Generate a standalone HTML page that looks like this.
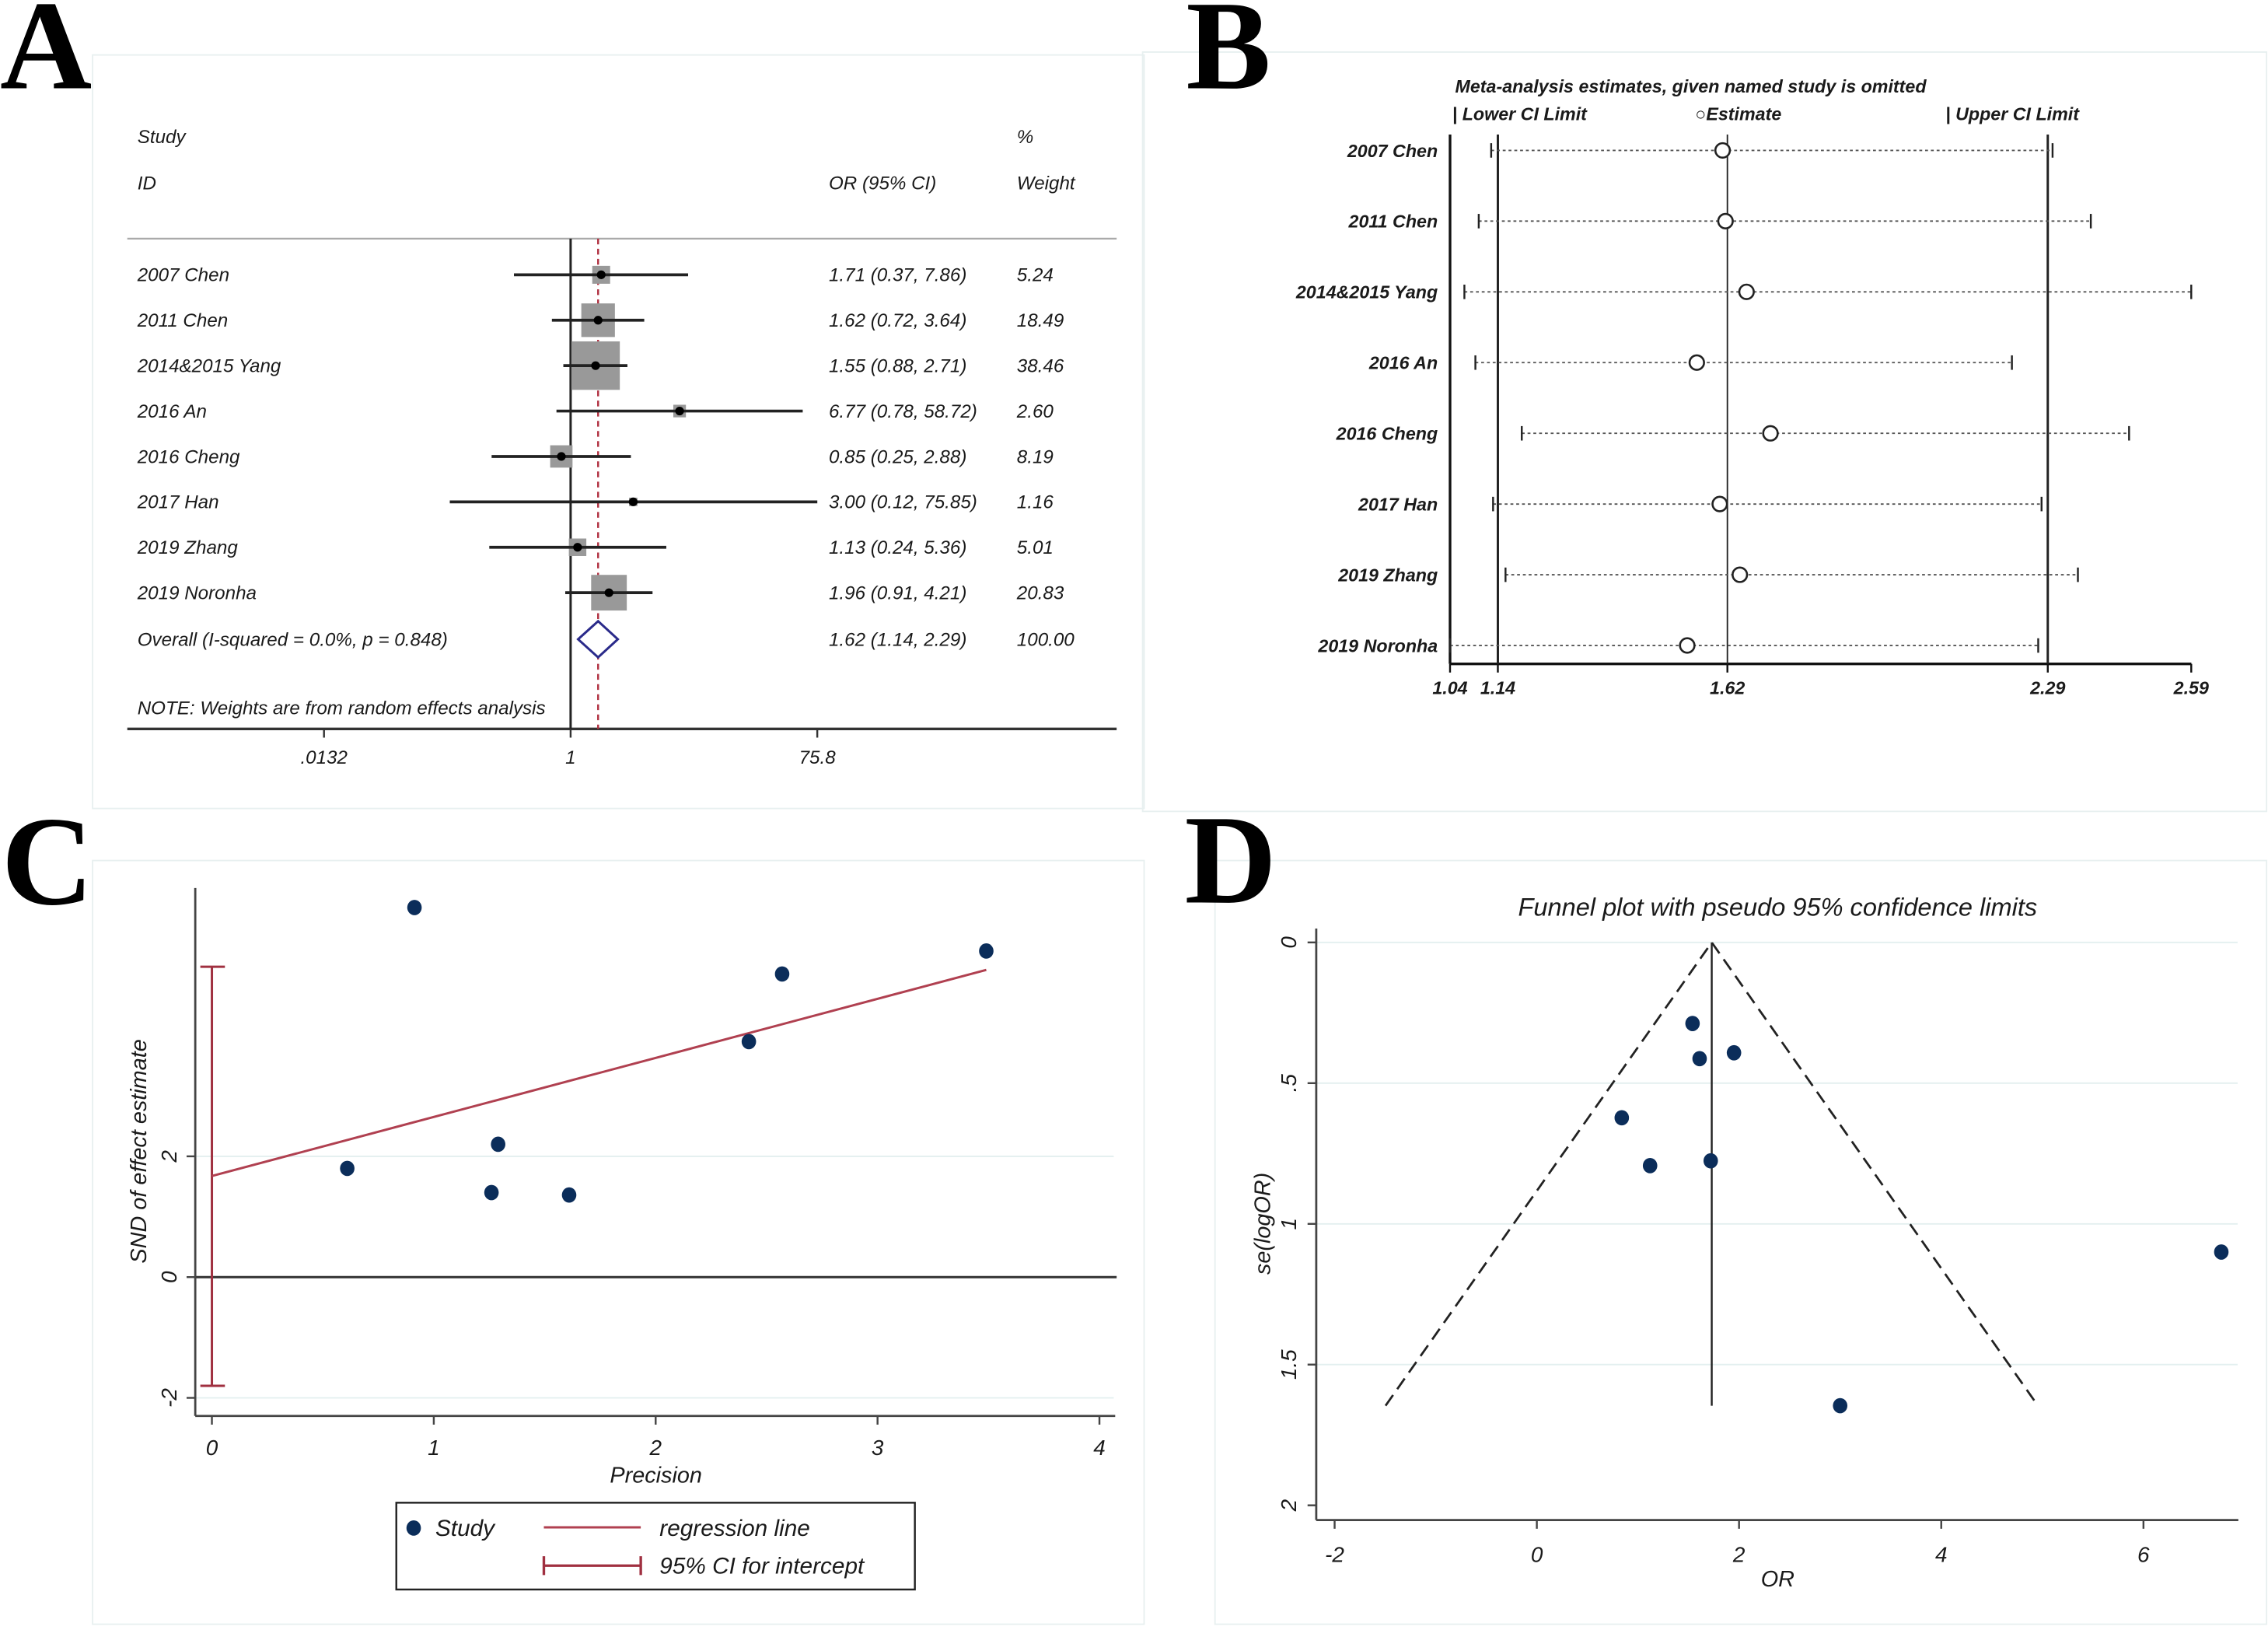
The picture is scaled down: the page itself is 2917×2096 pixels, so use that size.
<!DOCTYPE html>
<html><head><meta charset="utf-8"><style>
html,body{margin:0;padding:0;background:#fff;}
svg{display:block;}
text{font-family:"Liberation Sans",sans-serif;}
.lt{font-family:"Liberation Serif",serif;font-weight:bold;font-size:88px;fill:#000;}
.it{font-style:italic;fill:#1a1a1a;}
</style></head><body>
<svg id="fig" width="2917" height="2096" viewBox="0 0 1568 1127" preserveAspectRatio="none" xmlns="http://www.w3.org/2000/svg">
<rect x="0" y="0" width="1568" height="1127" fill="#fff"/>
<rect x="64" y="38" width="727" height="521" fill="none" stroke="#e8f0f0" stroke-width="1"/>
<rect x="790" y="36" width="777" height="525" fill="none" stroke="#e8f0f0" stroke-width="1"/>
<rect x="64" y="595" width="727" height="528" fill="none" stroke="#e8f0f0" stroke-width="1"/>
<rect x="840" y="595" width="727" height="528" fill="none" stroke="#e8f0f0" stroke-width="1"/>
<text class="lt" x="0" y="61">A</text>
<text class="lt" x="820" y="61">B</text>
<text class="lt" x="1" y="625">C</text>
<text class="lt" x="819" y="624">D</text>

<g id="pa" font-size="13">
<text class="it" x="95" y="99">Study</text>
<text class="it" x="95" y="131">ID</text>
<text class="it" x="573" y="131">OR (95% CI)</text>
<text class="it" x="703" y="99">%</text>
<text class="it" x="703" y="131">Weight</text>
<line x1="88" y1="165" x2="772" y2="165" stroke="#aaa" stroke-width="1.2"/>
<line x1="88" y1="504" x2="772" y2="504" stroke="#333" stroke-width="1.8"/>
<text class="it" x="95" y="494">NOTE: Weights are from random effects analysis</text>
</g>
<g id="pb" font-size="12.5" font-weight="bold">
<text class="it" x="1006" y="64">Meta-analysis estimates, given named study is omitted</text>
<text class="it" x="1004" y="83">| Lower CI Limit</text>
<text class="it" x="1172" y="83">○Estimate</text>
<text class="it" x="1345" y="83">| Upper CI Limit</text>
</g>
<g id="pc"></g>
<g id="pd"></g>
</svg>
<script>
// ---------- Panel A data ----------
const studies = ["2007 Chen","2011 Chen","2014&2015 Yang","2016 An","2016 Cheng","2017 Han","2019 Zhang","2019 Noronha"];
const orVals = [1.71,1.62,1.55,6.77,0.85,3.00,1.13,1.96];
const loVals = [0.37,0.72,0.88,0.78,0.25,0.12,0.24,0.91];
const hiVals = [7.86,3.64,2.71,58.72,2.88,75.85,5.36,4.21];
const weights = [5.24,18.49,38.46,2.60,8.19,1.16,5.01,20.83];
const overall = [1.62,1.14,2.29];
const forestTicks = [0.0132,1,75.8];
const forestTickLabels = [".0132","1","75.8"];
// ---------- Panel B data ----------
const omitLower = [1.126,1.10,1.07,1.093,1.19,1.13,1.156,1.04];
const omitEst = [1.61,1.616,1.66,1.556,1.71,1.604,1.646,1.536];
const omitUpper = [2.30,2.38,2.59,2.215,2.46,2.277,2.353,2.27];
const bTicks = [1.04,1.14,1.62,2.29,2.59];
const bRefLines = [1.14,1.62,2.29];
// ---------- Panel C data ----------
const precision = [0.913,0.61,1.29,1.26,1.61,2.42,2.57,3.49];
const snd = [6.12,1.80,2.20,1.40,1.36,3.90,5.02,5.40];
const regIntercept = 1.674;
const regSlope = 0.978;
const interceptCI = [-1.80,5.14];
const cXTicks = [0,1,2,3,4];
const cYTicks = [-2,0,2];
// ---------- Panel D data ----------
const funnelOR = [1.54,1.61,1.95,0.84,1.12,1.72,3.00,6.77];
const funnelSE = [0.288,0.413,0.392,0.623,0.793,0.776,1.646,1.10];
const pooledOR = 1.73;
const maxSE = 1.646;
const dXTicks = [-2,0,2,4,6];
const dYTicks = [0,0.5,1,1.5,2];
const dYTickLabels = ["0",".5","1","1.5","2"];

const NS="http://www.w3.org/2000/svg";
function mk(parent,tag,attrs,txt){const e=document.createElementNS(NS,tag);for(const k in attrs)e.setAttribute(k,attrs[k]);if(txt!==undefined)e.textContent=txt;parent.appendChild(e);return e;}
const pa=document.getElementById('pa'), pb=document.getElementById('pb'), pc=document.getElementById('pc'), pd=document.getElementById('pd');

// ===== Panel A =====
const ax=v=>394.5+Math.log(v)*39.4;
const rowY=i=>190+i*31.4;
let el;
el=mk(pa,'line',{x1:ax(1),y1:165,x2:ax(1),y2:504,stroke:'#222','stroke-width':1.6});


el=mk(pa,'line',{x1:ax(overall[0]),y1:165,x2:ax(overall[0]),y2:504,stroke:'#b03040','stroke-width':1.3,'stroke-dasharray':'4 3'});


studies.forEach((s,i)=>{
  const y=rowY(i);
  const side=5.4*Math.sqrt(weights[i]);
  el=mk(pa,'rect',{x:ax(orVals[i])-side/2,y:y-side/2,width:side,height:side,fill:'#999'});
  
  
  el=mk(pa,'line',{x1:ax(loVals[i]),y1:y,x2:ax(hiVals[i]),y2:y,stroke:'#222','stroke-width':2});
  
  
  el=mk(pa,'circle',{cx:ax(orVals[i]),cy:y,r:3,fill:'#000'});
  
  
  el=mk(pa,'text',{class:'it',x:95,y:y+4.5},s);
  
  
  el=mk(pa,'text',{class:'it',x:573,y:y+4.5},orVals[i].toFixed(2)+' ('+loVals[i].toFixed(2)+', '+hiVals[i].toFixed(2)+')');
  
  
  el=mk(pa,'text',{class:'it',x:703,y:y+4.5},weights[i].toFixed(2));
  
  
});
{
  const y=442;
  const pts=[[ax(overall[1]),y],[ax(overall[0]),y-12.5],[ax(overall[2]),y],[ax(overall[0]),y+12.5]].map(p=>p.join(',')).join(' ');
  el=mk(pa,'polygon',{points:pts,fill:'#fff',stroke:'#2a2a8a','stroke-width':1.6});
  
  
  el=mk(pa,'text',{class:'it',x:95,y:y+4.5},'Overall  (I-squared = 0.0%, p = 0.848)');
  
  
  el=mk(pa,'text',{class:'it',x:573,y:y+4.5},overall[0].toFixed(2)+' ('+overall[1].toFixed(2)+', '+overall[2].toFixed(2)+')');
  
  
  el=mk(pa,'text',{class:'it',x:703,y:y+4.5},'100.00');
  
  
}
forestTicks.forEach((t,i)=>{
  el=mk(pa,'line',{x1:ax(t),y1:504,x2:ax(t),y2:510,stroke:'#333','stroke-width':1.3});
  
  
  el=mk(pa,'text',{class:'it',x:ax(t),y:528,'text-anchor':'middle'},forestTickLabels[i]);
  
  
});

// ===== Panel B =====
const bx=v=>1002.5+(v-1.04)*330.6;
const bRowY=i=>104+i*48.9;
el=mk(pb,'line',{x1:1002.5,y1:93,x2:1002.5,y2:459,stroke:'#111','stroke-width':1.8});


el=mk(pb,'line',{x1:1002.5,y1:459,x2:1515,y2:459,stroke:'#111','stroke-width':1.8});


bRefLines.forEach((v,i)=>{
  el=mk(pb,'line',{x1:bx(v),y1:93,x2:bx(v),y2:459,stroke:'#222','stroke-width':i===1?1:1.6});
  
  
});
bTicks.forEach(t=>{
  el=mk(pb,'line',{x1:bx(t),y1:459,x2:bx(t),y2:465,stroke:'#111','stroke-width':1.3});
  
  
  el=mk(pb,'text',{class:'it',x:bx(t),y:480,'text-anchor':'middle'},t.toFixed(2));
  
  
});
studies.forEach((s,i)=>{
  const y=bRowY(i);
  el=mk(pb,'line',{x1:bx(omitLower[i]),y1:y,x2:bx(omitUpper[i]),y2:y,stroke:'#555','stroke-width':1,'stroke-dasharray':'2 2'});
  
  
  [omitLower[i],omitUpper[i]].forEach(v=>{
    el=mk(pb,'line',{x1:bx(v),y1:y-5,x2:bx(v),y2:y+5,stroke:'#222','stroke-width':1.3});
    
    
  });
  el=mk(pb,'circle',{cx:bx(omitEst[i]),cy:y,r:5,fill:'#fff',stroke:'#222','stroke-width':1.4});
  
  
  el=mk(pb,'text',{class:'it',x:994,y:y+4.5,'text-anchor':'end'},s);
  
  
});

// ===== Panel C =====
const cx=v=>146.5+v*153.4;
const cy=v=>883-v*41.75;
[2,-2].forEach(v=>{
  el=mk(pc,'line',{x1:135,y1:cy(v),x2:770,y2:cy(v),stroke:'#e3efef','stroke-width':1});
  
  
});
el=mk(pc,'line',{x1:135,y1:cy(0),x2:772,y2:cy(0),stroke:'#333','stroke-width':1.6});


el=mk(pc,'line',{x1:135,y1:614,x2:135,y2:979,stroke:'#444','stroke-width':1.5});


el=mk(pc,'line',{x1:135,y1:979,x2:771,y2:979,stroke:'#444','stroke-width':1.5});


cXTicks.forEach(t=>{
  el=mk(pc,'line',{x1:cx(t),y1:979,x2:cx(t),y2:985,stroke:'#444','stroke-width':1.3});
  
  
  el=mk(pc,'text',{class:'it',x:cx(t),y:1006,'text-anchor':'middle','font-size':15},String(t));
  
  
});
cYTicks.forEach(t=>{
  el=mk(pc,'line',{x1:129,y1:cy(t),x2:135,y2:cy(t),stroke:'#444','stroke-width':1.3});
  
  
  el=mk(pc,'text',{class:'it','font-size':15,'text-anchor':'middle',transform:'translate(122,'+cy(t)+') rotate(-90)'},String(t));
  
  
});
el=mk(pc,'text',{class:'it','font-size':15.5,'text-anchor':'middle',transform:'translate(101,796) rotate(-90)'},'SND of effect estimate');


el=mk(pc,'text',{class:'it','font-size':15.5,'text-anchor':'middle',x:453.5,y:1025},'Precision');


el=mk(pc,'line',{x1:cx(0),y1:cy(interceptCI[0]),x2:cx(0),y2:cy(interceptCI[1]),stroke:'#a03040','stroke-width':1.6});


interceptCI.forEach(v=>{
  el=mk(pc,'line',{x1:cx(0)-8,y1:cy(v),x2:cx(0)+9,y2:cy(v),stroke:'#a03040','stroke-width':1.6});
  
  
});
{
  const xmax=Math.max(...precision);
  el=mk(pc,'line',{x1:cx(0),y1:cy(regIntercept),x2:cx(xmax),y2:cy(regIntercept+regSlope*xmax),stroke:'#b04050','stroke-width':1.6});
  
  
}
precision.forEach((p,i)=>{
  el=mk(pc,'ellipse',{cx:cx(p),cy:cy(snd[i]),rx:5,ry:5.3,fill:'#0b2d5a'});
  
  
});
el=mk(pc,'rect',{x:274,y:1039,width:358.5,height:60,fill:'#fff',stroke:'#222','stroke-width':1.3});


el=mk(pc,'ellipse',{cx:286,cy:1056.5,rx:5,ry:5.3,fill:'#0b2d5a'});


el=mk(pc,'text',{class:'it','font-size':16,x:301,y:1062},'Study');


el=mk(pc,'line',{x1:376,y1:1056,x2:443,y2:1056,stroke:'#b04050','stroke-width':1.6});


el=mk(pc,'text',{class:'it','font-size':16,x:456,y:1062},'regression line');


el=mk(pc,'path',{d:'M376 1076 V1089 M376 1082.5 H443 M443 1076 V1089',fill:'none',stroke:'#a03040','stroke-width':1.8});


el=mk(pc,'text',{class:'it','font-size':16,x:456,y:1088},'95% CI for intercept');



// ===== Panel D =====
const dx=v=>1062.5+v*69.9;
const dy=v=>651.6+v*194.6;
el=mk(pd,'text',{class:'it','font-size':17.5,'text-anchor':'middle',x:1229,y:633},'Funnel plot with pseudo 95% confidence limits');


dYTicks.forEach((t,i)=>{
  if(t<2){
    el=mk(pd,'line',{x1:910,y1:dy(t),x2:1547,y2:dy(t),stroke:'#e3efef','stroke-width':1});
    
    
  }
  el=mk(pd,'line',{x1:904,y1:dy(t),x2:910,y2:dy(t),stroke:'#444','stroke-width':1.3});
  
  
  el=mk(pd,'text',{class:'it','font-size':15,'text-anchor':'middle',transform:'translate(896,'+dy(t)+') rotate(-90)'},dYTickLabels[i]);
  
  
});
el=mk(pd,'line',{x1:910,y1:642,x2:910,y2:1051,stroke:'#444','stroke-width':1.5});


el=mk(pd,'line',{x1:910,y1:1051,x2:1547.5,y2:1051,stroke:'#444','stroke-width':1.5});


dXTicks.forEach(t=>{
  el=mk(pd,'line',{x1:dx(t),y1:1051,x2:dx(t),y2:1057,stroke:'#444','stroke-width':1.3});
  
  
  el=mk(pd,'text',{class:'it','font-size':15,'text-anchor':'middle',x:dx(t),y:1080},String(t));
  
  
});
el=mk(pd,'text',{class:'it','font-size':15.5,'text-anchor':'middle',x:1229,y:1097},'OR');


el=mk(pd,'text',{class:'it','font-size':15.5,'text-anchor':'middle',transform:'translate(878,846) rotate(-90)'},'se(logOR)');


el=mk(pd,'line',{x1:dx(pooledOR),y1:dy(0),x2:dx(pooledOR),y2:dy(maxSE),stroke:'#222','stroke-width':1.3});


el=mk(pd,'path',{d:'M'+dx(pooledOR-1.96*maxSE)+' '+dy(maxSE)+' L'+dx(pooledOR)+' '+dy(0)+' L'+dx(pooledOR+1.96*maxSE)+' '+dy(maxSE),fill:'none',stroke:'#222','stroke-width':1.5,'stroke-dasharray':'9 5'});


funnelOR.forEach((o,i)=>{
  el=mk(pd,'ellipse',{cx:dx(o),cy:dy(funnelSE[i]),rx:5,ry:5.3,fill:'#0b2d5a'});
  
  
});
</script>
</body></html>
